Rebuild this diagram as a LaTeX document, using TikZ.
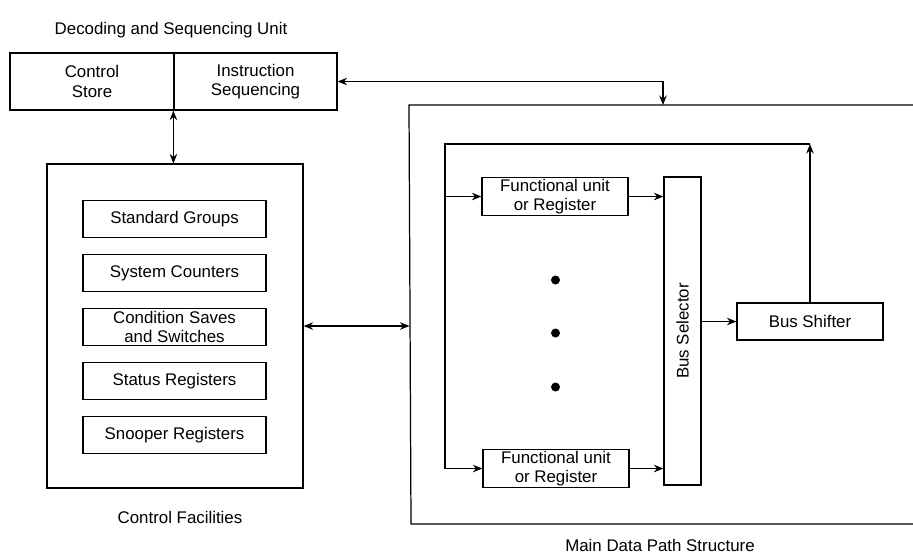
\documentclass[tikz,border=0pt]{standalone}
\usepackage{fontspec}
\setmainfont{Liberation Sans}
\usetikzlibrary{arrows.meta,positioning,calc}
\tikzset{
  >={Stealth[length=1.9mm,width=1.5mm]},
  box/.style={draw=black,line width=0.7pt,minimum width=#1,minimum height=7.4mm,
    align=center,inner sep=1pt,font=\fontsize{9.6}{11}\selectfont},
  box/.default=36.6mm,
  frame/.style={draw=black,line width=0.7pt,inner sep=0pt},
  flow/.style={line width=0.7pt,draw=black},
  tag/.style={font=\fontsize{9.6}{11.5}\selectfont,align=center},
  dot/.style={circle,fill=black,inner sep=0pt,minimum size=1.8mm},
}

\begin{document}
\begin{tikzpicture}[x=0.02cm,y=-0.02cm]
    \useasboundingbox (0,0) rectangle (913,556);
    % decoding and sequencing unit
    \node[tag] (dsu) at (171,30) {Decoding and Sequencing Unit};
    \node[box=32.8mm,minimum height=11.4mm] (cs) at (92,81.5) {Control\\Store};
    \node[box=32.6mm,minimum height=11.4mm] (is) at (255.5,81.5) {Instruction\\Sequencing};
    % control facilities
    \node[frame,minimum width=51.2mm,minimum height=64.8mm] (cf) at (175,326) {};
    \foreach \t [count=\i] in {Standard Groups,System Counters,Condition Saves\\and Switches,Status Registers,Snooper Registers}
      \node[box] (reg\i) at (174.5,{165+54*\i}) {\t};
    \node[tag] (cfl) at (180,517) {Control Facilities};
    % main data path (open on the right)
    \draw[flow] (913,105) -- (409,105) -- (411,524) -- (913,524);
    \coordinate (mtop) at (663,105);
    \coordinate (mleft) at (409.5,326);
    \node[tag] (mdp) at (660,545) {Main Data Path Structure};
    \node[box=29.2mm] (fu1) at (555,196.5) {Functional unit\\or Register};
    \node[box=29.2mm] (fu2) at (556,468.5) {Functional unit\\or Register};
    \foreach \y [count=\i] in {280,333,387}
      \node[dot] (d\i) at (555.5,\y) {};
    \node[box=7.4mm,minimum height=61.6mm] (bsel) at (682.5,331) {};
    \node[tag,rotate=90] (bsl) at (bsel) {Bus Selector};
    \node[box=29.2mm] (bsh) at (810,321.5) {Bus Shifter};
    \coordinate (loopr) at (bsh.north |- 0,144);
    \coordinate (loopl) at (445,144);
    % connectors
    \draw[flow,<->] (is.east) -| (mtop);
    \draw[flow,<->] (is.south west) -- (is.south west |- cf.north);
    \draw[flow,<->] (cf.east) -- (mleft);
    \draw[flow,->] (bsh.north) -- (loopr);
    \draw[flow,->] (loopr) -- (loopl) |- (fu2.west);
    \draw[flow,->] (loopl |- fu1.west) -- (fu1.west);
    \draw[flow,->] (fu1.east) -- (fu1.east -| bsel.west);
    \draw[flow,->] (fu2.east) -- (fu2.east -| bsel.west);
    \draw[flow,->] (bsh.west -| bsel.east) -- (bsh.west);
\end{tikzpicture}
\end{document}
